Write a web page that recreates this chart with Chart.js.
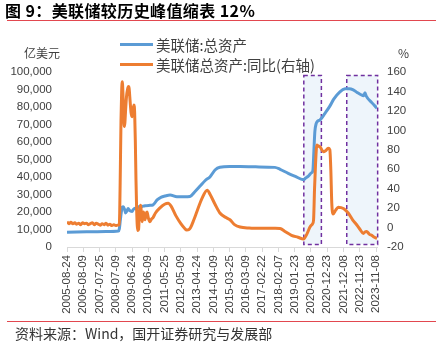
<!DOCTYPE html>
<html lang="zh">
<head>
  <meta charset="UTF-8" />
  <title>美联储较历史峰值缩表 12%</title>
  <script src="https://cdn.jsdelivr.net/npm/chart.js"></script>
  <style>
    body {
      margin: 0;
      background: #fff;
      font-family: 'Noto Sans CJK SC', sans-serif;
    }
    #wrap {
      position: relative;
      width: 436px;
      height: 350px;
      overflow: hidden;
    }
    #chart {
      position: absolute;
      left: 0;
      top: 0;
    }
    .title {
      position: absolute;
      left: 5px;
      top: 0px;
      font-size: 16px;
      font-weight: bold;
      line-height: 20px;
      letter-spacing: 0.4px;
      color: #000;
      white-space: pre;
    }
    .rule {
      position: absolute;
      left: 7px;
      width: 429px;
      height: 1px;
      background: #e2474f;
    }
    .unit {
      position: absolute;
      font-size: 12px;
      line-height: 14px;
      color: #404040;
    }
    .legend-row {
      position: absolute;
      left: 120px;
      height: 18px;
      display: flex;
      align-items: center;
      font-size: 14.5px;
      color: #404040;
      white-space: nowrap;
    }
    .legend-row i {
      display: inline-block;
      width: 33px;
      height: 3px;
      margin-right: 3px;
    }
    .source {
      position: absolute;
      left: 15px;
      top: 325px;
      font-size: 14px;
      line-height: 16px;
      color: #333;
      white-space: pre;
    }
  </style>
</head>
<body>
  <div id="wrap">
    <canvas id="chart" width="436" height="350"></canvas>
    <div class="title">图 9：美联储较历史峰值缩表 12%</div>
    <div class="rule" style="top: 20px;"></div>
    <div class="unit" style="left: 24px; top: 46px;">亿美元</div>
    <div class="unit" style="left: 398px; top: 46px;">%</div>
    <div class="legend-row" style="top: 35px;"><i style="background:#5b9bd5"></i>美联储:总资产</div>
    <div class="legend-row" style="top: 55px;"><i style="background:#ed7d31"></i>美联储总资产:同比(右轴)</div>
    <div class="rule" style="top: 321px;"></div>
    <div class="source">资料来源：Wind，国开证券研究与发展部</div>
  </div>

  <script>
    // x 轴按周计，0 = 2005-08-24，每 50 周一个刻度
    const tickLabels = [
      '2005-08-24', '2006-08-09', '2007-07-25', '2008-07-09', '2009-06-24',
      '2010-06-09', '2011-05-25', '2012-05-09', '2013-04-24', '2014-04-09',
      '2015-03-25', '2016-03-09', '2017-02-22', '2018-02-07', '2019-01-23',
      '2020-01-08', '2020-12-23', '2021-12-08', '2022-11-23', '2023-11-08'
    ];

    // 美联储:总资产（亿美元）
    const assetWeeks = [
      0, 60, 120, 158, 161, 164, 167, 170, 173, 177, 180, 184, 188, 192, 196,
      200, 204, 209, 214, 219, 227, 240, 255, 264, 277, 290, 301, 317, 338, 360,
      378, 393, 410, 425, 440, 455, 470, 500, 532, 580, 639, 655, 680, 700, 727,
      733, 742, 752, 756, 759, 762, 766, 770, 778, 793, 808, 820, 839, 855, 868,
      880, 892, 904, 912, 916, 920, 937, 953
    ];
    const assetValues = [
      8400, 8650, 8900, 9200, 10500, 15500, 20000, 22800, 23000, 21500, 19500, 20500, 22000, 21000, 20500,
      20300, 21500, 22100, 21600, 23000, 23000, 23600, 23800, 24000, 26900, 28500, 29100, 29700, 28700, 28700,
      28900, 31600, 35000, 38000, 40200, 44000, 45600, 46000, 46000, 45800, 45500, 44400, 42100, 40500, 38500,
      39300, 40500, 42500, 43800, 55000, 66000, 70500, 71800, 72600, 76400, 80500, 84500, 88700, 90400, 90500,
      89800, 88300, 87000, 86500, 88200, 86200, 82500, 79300
    ];

    // 美联储总资产:同比（%，右轴）
    const yoyWeeks = [
      0, 6, 12, 18, 24, 30, 36, 42, 48, 54, 60, 66, 72, 78, 84, 90, 96, 102, 108, 114,
      120, 126, 132, 138, 144, 150, 156, 160, 162, 164, 166, 168, 170, 172, 174, 176, 178, 180, 183, 186,
      189, 191, 194, 197, 200, 203, 206, 208, 210, 212, 214, 216, 218, 220, 222, 224, 227, 229, 231, 233,
      235, 237, 240, 243, 246, 250, 255, 260, 264, 272, 285, 300, 311, 320, 335, 350, 362, 368, 375, 380,
      390, 400, 415, 431, 440, 455, 470, 490, 501, 515, 532, 560, 600, 640, 655, 670, 690, 710, 727, 737,
      747, 755, 758, 761, 764, 768, 772, 778, 788, 795, 803, 808, 811, 814, 818, 826, 834, 842, 852, 865,
      878, 891, 901, 911, 916, 921, 930, 937, 945, 953
    ];
    const yoyValues = [
      6, 4, 5.5, 4, 5, 3.5, 4.5, 3, 5, 4, 4.5, 3, 4, 5, 3, 4.5, 3.5, 2.5, 4, 3,
      4.5, 2.5, 3.5, 2, 3, 2, 2.5, 3, 15, 60, 110, 140, 150, 138, 118, 104, 108, 120, 135, 142,
      145, 143, 130, 118, 114, 122, 126, 118, 90, 50, 20, 2, -3, -2, 10, 20, 23, 12, 6, 12,
      16, 12, 8, 14, 16, 10, 6, 9, 10, 15, 20, 24, 25, 22, 12, 4, -1, -2.5, -2, 0,
      8, 17, 30, 38.5, 34, 24, 15, 10, 8, 3, 0.5, -0.5, -0.8, -0.8, -1, -4, -8, -10, -11.8, -7,
      0.5, 4, 8, 40, 65, 85, 84, 83, 78, 79, 81.5, 80, 60, 25, 14, 18, 21, 20.5, 19, 14.7,
      8, 2.6, -2, -6, -4.5, -4, -7, -8, -10, -11
    ];

    // 两段缩表区间（周）及框的上下沿（亿美元）
    const highlightSpans = [[728, 782], [860, 955]];
    const highlightRange = [1500, 98000];

    const tickFont = { family: "'Liberation Sans', Arial, sans-serif", size: 11.5 };
    const tickColor = '#404040';

    const highlightBoxes = {
      id: 'highlightBoxes',
      beforeDatasetsDraw(chart) {
        const { ctx, scales } = chart;
        const yTop = scales.y.getPixelForValue(highlightRange[1]);
        const yBottom = scales.y.getPixelForValue(highlightRange[0]);
        ctx.save();
        for (const [from, to] of highlightSpans) {
          const x0 = scales.x.getPixelForValue(from);
          const x1 = scales.x.getPixelForValue(to);
          ctx.fillStyle = '#eef5fb';
          ctx.fillRect(x0, yTop, x1 - x0, yBottom - yTop);
          ctx.strokeStyle = '#7030a0';
          ctx.lineWidth = 1.5;
          ctx.setLineDash([4, 3]);
          ctx.strokeRect(x0, yTop, x1 - x0, yBottom - yTop);
        }
        ctx.restore();
      }
    };

    new Chart(document.getElementById('chart'), {
      type: 'line',
      data: {
        datasets: [
          {
            label: '美联储:总资产',
            data: assetWeeks.map((w, i) => ({ x: w, y: assetValues[i] })),
            yAxisID: 'y',
            borderColor: '#5b9bd5',
            borderWidth: 3,
            pointRadius: 0,
            cubicInterpolationMode: 'monotone',
            order: 2
          },
          {
            label: '美联储总资产:同比(右轴)',
            data: yoyWeeks.map((w, i) => ({ x: w, y: yoyValues[i] })),
            yAxisID: 'y1',
            borderColor: '#ed7d31',
            borderWidth: 3,
            pointRadius: 0,
            cubicInterpolationMode: 'monotone',
            order: 1
          }
        ]
      },
      options: {
        responsive: false,
        animation: false,
        layout: { padding: { top: 72, left: 0, right: 0, bottom: 0 } },
        plugins: {
          legend: { display: false },
          tooltip: { enabled: false }
        },
        scales: {
          x: {
            type: 'linear',
            min: 0,
            max: 953,
            afterBuildTicks: (scale) => {
              scale.ticks = tickLabels.map((_, i) => ({ value: i * 50 }));
            },
            afterFit: (scale) => { scale.height = 103; },
            ticks: {
              callback: (value, index) => tickLabels[index],
              autoSkip: false,
              minRotation: 90,
              maxRotation: 90,
              padding: 3,
              font: tickFont,
              color: tickColor
            },
            grid: {
              display: true,
              drawOnChartArea: false,
              drawTicks: true,
              tickLength: 5,
              color: '#d9d9d9'
            },
            border: { display: true, color: '#d9d9d9' }
          },
          y: {
            position: 'left',
            min: 0,
            max: 100000,
            afterFit: (scale) => { scale.width = 67; },
            ticks: {
              stepSize: 10000,
              padding: 15,
              callback: (v) => v.toLocaleString('en-US'),
              font: tickFont,
              color: tickColor
            },
            grid: { display: false, drawTicks: false },
            border: { display: false }
          },
          y1: {
            position: 'right',
            min: -20,
            max: 160,
            afterFit: (scale) => { scale.width = 59; },
            ticks: {
              stepSize: 20,
              padding: 10,
              font: tickFont,
              color: tickColor
            },
            grid: { display: false, drawTicks: false },
            border: { display: false }
          }
        }
      },
      plugins: [highlightBoxes]
    });
  </script>
</body>
</html>
